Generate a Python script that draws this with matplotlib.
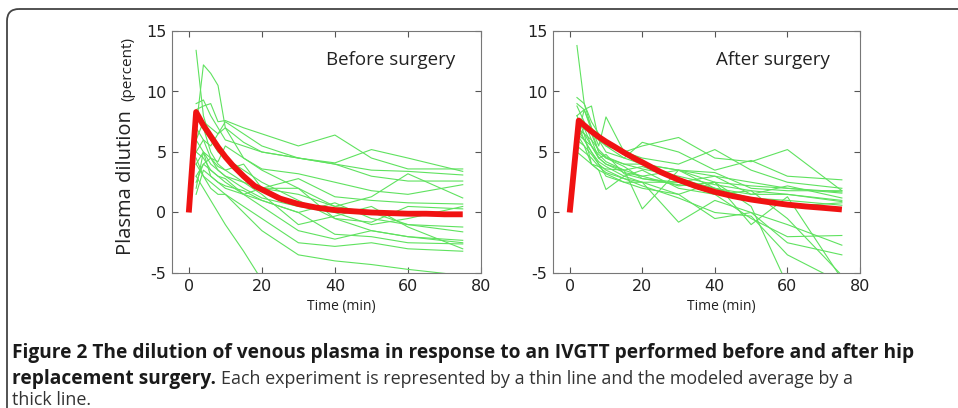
import matplotlib
matplotlib.use("Agg")
import matplotlib.pyplot as plt
from matplotlib.patches import FancyBboxPatch

plt.rcParams["axes.unicode_minus"] = False

# sampling times of the single experiments (min)
times = [2, 4, 6, 8, 10, 15, 20, 30, 40, 50, 60, 75]

before_lines = [
    [13.4, 8.0, 6.0, 5.0, 4.5, 3.5, 2.5, 1.0, -0.5, -1.5, -2.0, -2.5],
    [7.0, 12.2, 11.5, 10.5, 7.0, 4.5, 3.5, 2.0, 0.5, 0.0, -1.0, -1.2],
    [9.0, 9.3, 8.0, 7.0, 6.0, 5.5, 5.0, 4.5, 4.0, 3.5, 3.4, 3.1],
    [8.5, 8.8, 9.0, 7.5, 7.6, 7.0, 6.5, 5.5, 6.4, 4.5, 3.6, 3.6],
    [6.0, 7.5, 7.0, 6.5, 7.5, 6.5, 5.5, 4.5, 4.1, 5.2, 4.5, 3.4],
    [5.0, 6.0, 5.5, 6.5, 7.0, 5.8, 5.0, 4.5, 4.0, 3.0, 2.6, 2.6],
    [4.0, 5.0, 4.5, 4.2, 5.5, 4.5, 3.6, 3.2, 2.5, 1.8, 1.5, 2.3],
    [3.0, 4.0, 4.5, 3.5, 3.0, 2.5, 2.0, 1.5, 0.5, 1.3, 3.2, 1.2],
    [2.0, 5.0, 3.0, 2.5, 2.0, 1.5, 2.0, 2.8, 1.3, 1.0, 0.8, 0.7],
    [1.5, 3.5, 3.0, 2.5, 2.2, 1.8, 1.0, 0.0, 0.8, -0.5, -1.0, -1.6],
    [6.0, 5.0, 4.0, 3.5, 3.0, 2.0, 1.2, 0.5, 0.0, -1.0, -0.5, 0.5],
    [5.0, 4.5, 3.5, 3.0, 2.5, 1.5, 0.5, -1.5, -2.2, -1.5, -2.0, -2.3],
    [7.0, 6.0, 4.5, 3.8, 3.5, 2.5, 1.5, -1.0, -0.3, 0.5, -1.2, -3.0],
    [4.5, 3.0, 2.0, 1.5, 1.5, 0.5, -0.5, -2.5, -2.8, -2.5, -3.0, -3.2],
    [3.0, 2.0, 1.0, 0.0, -1.0, -3.2, -5.6, -7.0, -8.0, -9.0, -9.5, -10.0],
    [4.0, 3.0, 2.5, 2.0, 1.5, 0.0, -1.5, -3.5, -4.0, -4.3, -4.7, -5.2],
    [2.5, 4.0, 3.5, 3.0, 2.8, 1.5, 1.0, 0.0, -1.8, -2.0, -2.5, -2.6],
    [8.0, 7.0, 5.0, 4.0, 3.5, 4.0, 2.0, 2.0, -0.5, -0.8, 0.5, 0.3],
]

after_lines = [
    [13.8, 9.0, 7.0, 6.0, 5.5, 4.5, 4.0, 3.5, 3.0, 2.5, 2.0, 1.7],
    [9.5, 9.0, 7.5, 6.5, 5.5, 5.0, 5.5, 6.2, 4.5, 4.2, 5.2, 1.8],
    [9.0, 8.5, 8.8, 6.0, 5.0, 4.5, 5.8, 5.0, 3.5, 4.3, 3.0, 2.7],
    [8.0, 8.5, 7.0, 5.5, 7.9, 5.0, 4.5, 4.0, 5.2, 3.5, 2.5, 2.0],
    [7.5, 7.0, 6.5, 5.0, 4.5, 4.0, 4.0, 3.5, 3.3, 2.0, 1.8, 1.8],
    [7.0, 6.5, 6.0, 4.5, 4.0, 3.5, 3.0, 3.5, 2.5, 2.2, 2.0, 1.6],
    [6.5, 6.0, 5.0, 4.2, 3.8, 3.0, 2.5, 2.5, 3.0, 1.5, 1.5, 1.0],
    [6.0, 7.0, 5.5, 4.5, 4.8, 3.2, 2.8, 2.3, 2.0, 1.0, 0.5, 0.8],
    [5.5, 5.0, 4.5, 3.8, 3.6, 3.5, 0.3, 3.5, 2.0, 1.2, 1.0, 0.6],
    [6.0, 5.5, 4.0, 3.5, 1.9, 3.0, 3.5, 2.0, 1.5, -0.5, -2.0, -1.9],
    [7.0, 6.0, 5.0, 4.0, 3.0, 2.5, 2.5, -0.8, 1.0, 0.0, -1.0, -2.7],
    [8.0, 6.5, 4.0, 3.5, 3.2, 2.5, 2.0, 1.5, -0.5, 0.0, -2.5, -3.5],
    [6.5, 5.5, 4.8, 4.0, 3.5, 2.8, 2.5, 1.5, 2.5, 0.5, -6.0, -7.0],
    [7.5, 6.0, 5.5, 4.5, 4.0, 3.3, 3.0, 2.2, 2.5, -1.0, 1.3, -5.5],
    [5.0, 4.5, 4.0, 3.8, 3.3, 2.8, 2.2, 1.2, 0.0, -0.3, -3.5, -5.8],
    [6.0, 8.5, 6.8, 5.0, 4.5, 3.8, 2.8, 2.5, 1.5, 1.8, 1.5, 0.9],
    [8.8, 7.5, 6.0, 5.2, 4.6, 4.0, 3.6, 3.0, 2.3, 1.8, -0.5, -5.2],
    [7.0, 6.5, 5.5, 4.8, 4.2, 3.5, 3.8, 2.8, 2.0, 1.5, 2.2, 1.2],
]

# modeled averages
model_t_before = [0, 2, 4, 6, 8, 10, 12, 15, 18, 20, 25, 30, 35, 40, 45, 50, 55, 60, 65, 70, 75]
model_before = [0.0, 8.3, 7.2, 6.3, 5.4, 4.6, 3.9, 3.0, 2.2, 1.9, 1.15, 0.7, 0.4, 0.2, 0.1,
                0.0, -0.05, -0.1, -0.1, -0.15, -0.15]
model_t_after = [0, 2.5, 4, 6, 8, 10, 12, 15, 18, 20, 25, 30, 35, 40, 45, 50, 55, 60, 65, 70, 75]
model_after = [0.0, 7.6, 7.2, 6.7, 6.25, 5.85, 5.5, 4.95, 4.45, 4.15, 3.35, 2.7, 2.15, 1.7,
               1.35, 1.07, 0.85, 0.65, 0.5, 0.38, 0.25]

x_ticks = [0, 20, 40, 60, 80]
y_ticks = [-5, 0, 5, 10, 15]
panel_titles = ["Before surgery", "After surgery"]

W, H = 958, 408
GREEN = "#5fe25f"
RED = "#f01212"

fig = plt.figure(figsize=(W / 100, H / 100), dpi=100)

# rounded frame around the figure
bg = fig.add_axes([0, 0, 1, 1], zorder=-1)
bg.set_xlim(0, W)
bg.set_ylim(H, 0)
bg.axis("off")
bg.add_patch(FancyBboxPatch((7, 9), 1100, 600, boxstyle="round,pad=0,rounding_size=12",
                            fc="none", ec="#444444", lw=1.3))


def box(l, t, r, b):
    return [l / W, 1 - b / H, (r - l) / W, (b - t) / H]


ax1 = fig.add_axes(box(172, 31, 481, 273))
ax2 = fig.add_axes(box(553, 31, 860, 273))

panels = [(ax1, before_lines, model_t_before, model_before, 0.916),
          (ax2, after_lines, model_t_after, model_after, 0.902)]

for i, (ax, lines, mt, mv, tx) in enumerate(panels):
    for vals in lines:
        ax.plot(times, vals, color=GREEN, lw=0.8)
    ax.plot(mt, mv, color=RED, lw=4.2, solid_capstyle="butt")
    ax.set_xlim(-4.6, 80)
    ax.set_ylim(-5, 15)
    ax.set_xticks(x_ticks)
    ax.set_yticks(y_ticks)
    ax.tick_params(direction="in", top=True, right=True, length=4, width=0.8,
                   color="#555555", labelsize=11.5, labelcolor="#222222", pad=4)
    for lab in ax.get_xticklabels() + ax.get_yticklabels():
        lab.set_family("DejaVu Sans")
    for s in ax.spines.values():
        s.set_color("#777777")
        s.set_linewidth(0.8)
    ax.text(tx, 0.88, panel_titles[i], transform=ax.transAxes, ha="right", va="center",
            family="Open Sans", fontsize=13.5, color="#222222")
    ax.set_xlabel("Time (min)", family="Open Sans", fontsize=10, color="#222222")
    ax.xaxis.set_label_coords(0.548, -0.14)
    ax.xaxis.label.set_va("center")

# y label: big and small part on one baseline
fig.text(131 / W, 1 - 255 / H, "Plasma dilution", rotation=90, rotation_mode="anchor",
         ha="left", va="baseline", family="Open Sans", fontsize=14.5, color="#222222")
fig.text(131 / W, 1 - 101 / H, "(percent)", rotation=90, rotation_mode="anchor",
         ha="left", va="baseline", family="Open Sans", fontsize=11, color="#222222")

# caption
cap_font = "Open Sans"
fig.text(12 / W, 1 - 358 / H,
         "Figure 2 The dilution of venous plasma in response to an IVGTT performed before and after hip",
         ha="left", va="baseline", family=cap_font, fontsize=13.8, fontweight="bold",
         color="#1a1a1a")
t_bold = fig.text(12 / W, 1 - 384 / H, "replacement surgery.", ha="left", va="baseline",
                  family=cap_font, fontsize=13.8, fontweight="bold", color="#1a1a1a")
fig.canvas.draw()
x_end = t_bold.get_window_extent().x1
fig.text((x_end + 5) / W, 1 - 384 / H,
         "Each experiment is represented by a thin line and the modeled average by a",
         ha="left", va="baseline", family=cap_font, fontsize=12.9, color="#333333")
fig.text(12 / W, 1 - 405 / H, "thick line.", ha="left", va="baseline",
         family=cap_font, fontsize=12.9, color="#333333")

fig.savefig("out.png", dpi=100)
